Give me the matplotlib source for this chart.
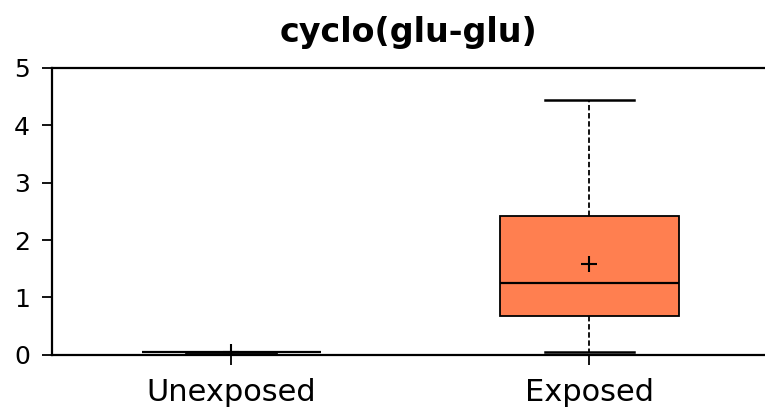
import matplotlib.pyplot as plt

plt.rcParams['font.family'] = ['DejaVu Sans']

# Ringkasan boxplot per kelompok
categories = ['Unexposed', 'Exposed']
whis_lo = [0.05, 0.05]
q1 = [0.05, 0.68]
median = [0.05, 1.25]
q3 = [0.05, 2.42]
whis_hi = [0.05, 4.44]
means = [0.05, 1.585]

stats = []
for i, name in enumerate(categories):
    stats.append(dict(label=name, whislo=whis_lo[i], q1=q1[i], med=median[i],
                      q3=q3[i], whishi=whis_hi[i], mean=means[i], fliers=[]))

fig = plt.figure(figsize=(7.65, 4.17), dpi=100)
ax = fig.add_axes([0.068, 0.149, 0.932, 0.688])

ax.bxp(stats, positions=[0, 1], widths=0.5, showmeans=True, patch_artist=True,
       boxprops=dict(facecolor='#FF7F50', edgecolor='black', linewidth=1.3),
       medianprops=dict(color='black', linewidth=1.6),
       whiskerprops=dict(color='black', linestyle=(0, (3, 1.5)), linewidth=1.3),
       capprops=dict(color='black', linewidth=1.8),
       capwidths=0.25,
       meanprops=dict(marker='+', markeredgecolor='black', markersize=12,
                      markeredgewidth=1.5))

ax.set_xlim(-0.5, 1.49)
ax.set_ylim(0, 5)
ax.set_yticks([0, 1, 2, 3, 4, 5])
ax.set_xticks([0, 1])
ax.set_xticklabels(categories)
ax.spines['right'].set_visible(False)
for s in ['left', 'top', 'bottom']:
    ax.spines[s].set_linewidth(1.6)
ax.tick_params(axis='y', length=7, width=1.3, labelsize=18, pad=9)
ax.tick_params(axis='x', length=7, width=1.3, labelsize=22, pad=10)
ax.set_title('cyclo(glu-glu)', fontsize=24, fontweight='bold', pad=19)

fig.savefig('out.png', dpi=100)
